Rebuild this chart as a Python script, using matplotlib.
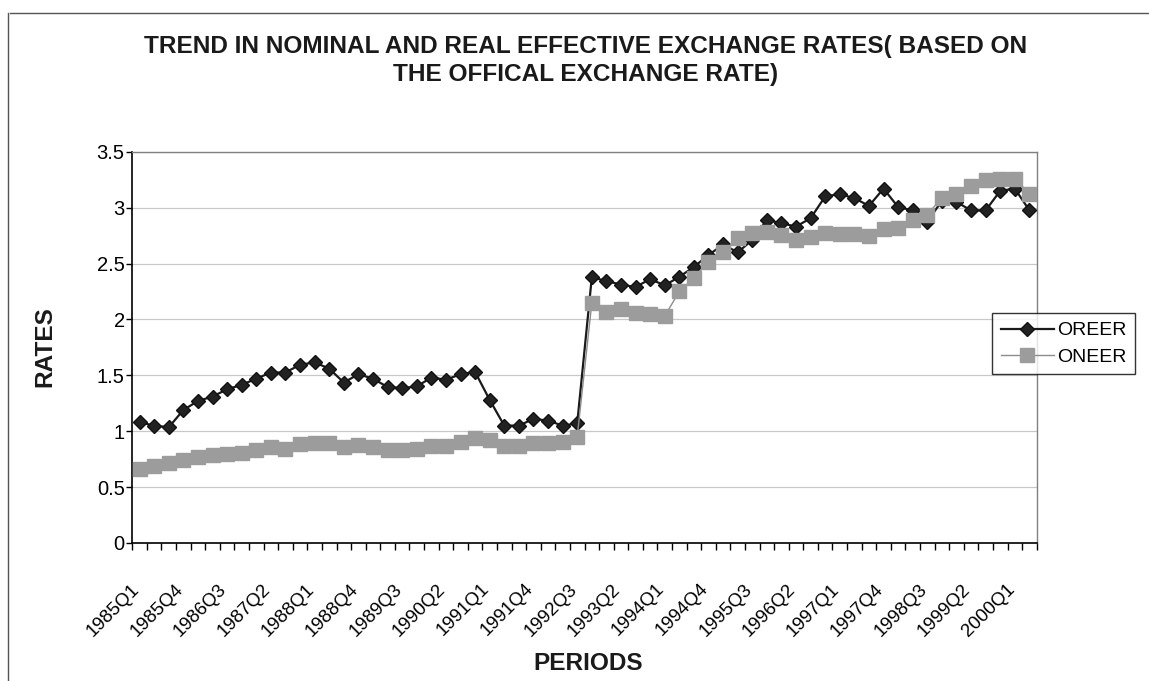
import numpy as np
import matplotlib
matplotlib.use("Agg")
import matplotlib.pyplot as plt
from matplotlib.lines import Line2D
from matplotlib.transforms import ScaledTranslation

plt.rcParams['font.family'] = ['Liberation Sans', 'DejaVu Sans']

# Quarterly periods 1985Q1 .. 2000Q2
periods = [f"{y}Q{q}" for y in range(1985, 2001) for q in range(1, 5)][:62]

oreer = [1.08, 1.05, 1.035, 1.19, 1.27, 1.31, 1.375, 1.415, 1.47, 1.525,
         1.525, 1.595, 1.615, 1.56, 1.435, 1.51, 1.47, 1.395, 1.385, 1.40,
         1.48, 1.46, 1.51, 1.53, 1.28, 1.05, 1.05, 1.11, 1.095, 1.05,
         1.07, 2.375, 2.345, 2.31, 2.29, 2.36, 2.305, 2.38, 2.47, 2.575,
         2.67, 2.60, 2.71, 2.89, 2.86, 2.83, 2.905, 3.10, 3.12, 3.085,
         3.015, 3.17, 3.005, 2.975, 2.875, 3.06, 3.05, 2.975, 2.975, 3.15,
         3.17, 2.975]

oneer = [0.665, 0.69, 0.715, 0.745, 0.765, 0.785, 0.80, 0.805, 0.835, 0.855,
         0.845, 0.885, 0.895, 0.89, 0.855, 0.875, 0.855, 0.83, 0.83, 0.845,
         0.87, 0.87, 0.905, 0.935, 0.92, 0.87, 0.865, 0.895, 0.897, 0.90,
         0.95, 2.145, 2.07, 2.09, 2.055, 2.05, 2.03, 2.25, 2.37, 2.515,
         2.605, 2.725, 2.77, 2.785, 2.755, 2.71, 2.74, 2.775, 2.76, 2.76,
         2.745, 2.805, 2.82, 2.89, 2.935, 3.09, 3.125, 3.19, 3.245, 3.255,
         3.26, 3.125]

yticks = [0, 0.5, 1, 1.5, 2, 2.5, 3, 3.5]
ytick_labels = ["0", "0.5", "1", "1.5", "2", "2.5", "3", "3.5"]

W, H = 1149, 681
fig = plt.figure(figsize=(W / 100, H / 100), dpi=100)
fig.patch.set_facecolor("white")

# outer chart frame (top and left edges)
fig.add_artist(Line2D([10 / W, 1.0], [1 - 13 / H, 1 - 13 / H],
                      transform=fig.transFigure, color="#555555", lw=1.0))
fig.add_artist(Line2D([8 / W, 8 / W], [1 - 13 / H, 0.0],
                      transform=fig.transFigure, color="#555555", lw=1.0))

left, right, top, bottom = 132.3, 1036.7, 151.7, 543.0
ax = fig.add_axes([left / W, 1 - bottom / H, (right - left) / W, (bottom - top) / H])

x = np.arange(len(periods))
ax.plot(x, oreer, color="#1a1a1a", lw=1.6, marker="D", markersize=7.5,
        markerfacecolor="#222222", markeredgecolor="#111111", label="OREER", zorder=3)
ax.plot(x, oneer, color="#8c8c8c", lw=1.0, marker="s", markersize=10.5,
        markerfacecolor="#9c9c9c", markeredgecolor="#9c9c9c", label="ONEER", zorder=4)

ax.set_xlim(-0.5, len(periods) - 0.5)
ax.set_ylim(0, 3.5)

# horizontal gridlines
ax.set_yticks(yticks)
ax.set_yticklabels(ytick_labels, fontsize=14.5)
ax.yaxis.grid(True, color="#c8c8c8", lw=0.9)
ax.set_axisbelow(True)
ax.tick_params(axis="y", direction="out", length=4, width=1, pad=1.5, color="black")

# category labels every third quarter, tick marks between categories
label_pos = x[::3]
ax.set_xticks(label_pos)
ax.set_xticklabels([periods[i] for i in label_pos], rotation=45, ha="right",
                   rotation_mode="anchor", fontsize=13.5)
ax.tick_params(axis="x", which="major", length=0, pad=27)
shift = ScaledTranslation(-9 / 100, 0, fig.dpi_scale_trans)
for lbl in ax.get_xticklabels():
    lbl.set_transform(lbl.get_transform() + shift)
ax.set_xticks(np.arange(-0.5, len(periods) + 0.5, 1), minor=True)
ax.tick_params(axis="x", which="minor", direction="out", length=5, width=1, color="black")

for s in ("left", "bottom"):
    ax.spines[s].set_color("black")
    ax.spines[s].set_linewidth(1.2)
for s in ("top", "right"):
    ax.spines[s].set_color("#808080")
    ax.spines[s].set_linewidth(1.0)

fig.text(586 / W, 1 - 46 / H,
         "TREND IN NOMINAL AND REAL EFFECTIVE EXCHANGE RATES( BASED ON",
         ha="center", va="center", fontsize=17.6, fontweight="bold", color="#1a1a1a")
fig.text(586 / W, 1 - 75 / H, "THE OFFICAL EXCHANGE RATE)",
         ha="center", va="center", fontsize=17.6, fontweight="bold", color="#1a1a1a")
fig.text(45 / W, 1 - 347 / H, "RATES", rotation=90, ha="center", va="center",
         fontsize=17.6, fontweight="bold", color="#1a1a1a")
fig.text(588 / W, 1 - 664 / H, "PERIODS", ha="center", va="center",
         fontsize=17.6, fontweight="bold", color="#1a1a1a")

leg = ax.legend(loc="upper left", bbox_to_anchor=(992 / W, 1 - 313 / H),
                bbox_transform=fig.transFigure, borderaxespad=0, frameon=True,
                fancybox=False, edgecolor="black", fontsize=14, handlelength=2.75,
                handletextpad=0.15, borderpad=0.45, labelspacing=0.45)
leg.get_frame().set_linewidth(1.0)
leg.set_zorder(10)

fig.savefig("out.png", dpi=100, facecolor="white")
